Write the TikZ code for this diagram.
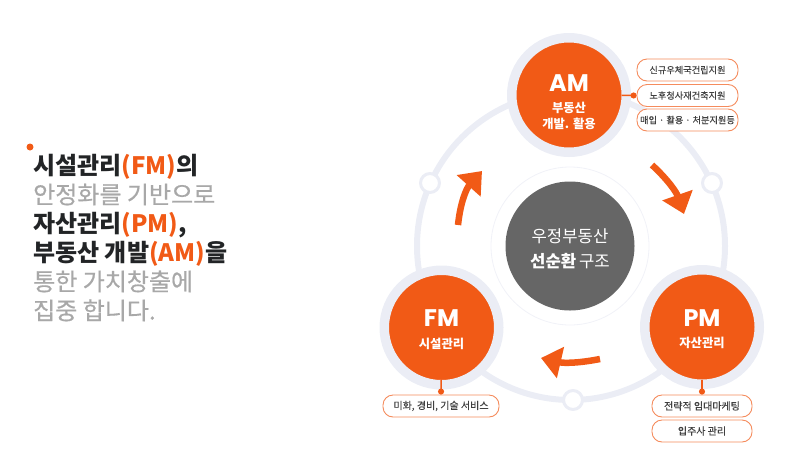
\documentclass[tikz,border=0pt]{standalone}
\usepackage{fontspec}
\setmainfont{Noto Sans CJK KR}
\newfontfamily\latinfont{Poppins}
\newfontfamily\medfont[FakeBold=0.25]{Noto Sans CJK KR}
\newfontfamily\softfont[FakeBold=0.6]{Noto Sans CJK KR}
\usetikzlibrary{arrows.meta}

\definecolor{fire}{HTML}{F15A16}
\definecolor{halo}{HTML}{EBEDF5}
\definecolor{slate}{HTML}{666666}
\definecolor{ash}{HTML}{A8A8A8}
\definecolor{ink}{HTML}{222426}

\tikzset{
	phase/.style={circle, fill=fire, draw=halo, line width=9.5pt, minimum size=114.5pt, inner sep=0pt, outer sep=-4.75pt, text=white, align=center, font=\bfseries\fontsize{12.3}{14.5}\selectfont},
	pill/.style={rounded corners=10pt, draw=fire!70!white, fill=white, line width=.9pt, minimum height=22pt, inner sep=0pt, text=black!75, font=\medfont\fontsize{10}{12}\selectfont},
	smallpill/.style={pill, minimum width=101pt, font=\medfont\fontsize{9.2}{12}\selectfont},
	joint/.style={circle, draw=halo, fill=white, line width=3pt, minimum size=19pt, inner sep=0pt},
	turn/.style={draw=fire, line width=6.5pt, -{Triangle[length=20pt,width=31pt]}},
	lead/.style={draw=fire, line width=1.5pt, -{Circle[length=6pt]}}
}
\newcommand{\acro}[1]{{\latinfont\bfseries\fontsize{24}{26}\selectfont #1}}
\newcommand{\hot}[1]{\textcolor{fire}{\bfseries #1}}

\begin{document}
\begin{tikzpicture}[x=1pt,y=-1pt]
	\useasboundingbox (0,0) rectangle (800,464);

	% left text
	\node[circle, fill=fire, inner sep=0pt, minimum size=7pt] (dot) at (30,147) {};
	\node[anchor=north west, inner sep=0pt, align=left, font=\fontsize{24}{29}\selectfont] (intro) at (33,154) {%
		\textcolor{ink}{\bfseries 시설관리\hot{(FM)}의}\\
		\textcolor{ash}{\softfont 안정화를 기반으로}\\
		\textcolor{ink}{\bfseries 자산관리\hot{(PM)},}\\
		\textcolor{ink}{\bfseries 부동산 개발\hot{(AM)}을}\\
		\textcolor{ash}{\softfont 통한 가치창출에}\\
		\textcolor{ash}{\softfont 집중 합니다.}};

	% ring and hub
	\node[circle, draw=halo, line width=6pt, minimum size=308pt, inner sep=0pt] (ring) at (571,246) {};
	\node[circle, draw=halo!70!white, fill=white, line width=.8pt, minimum size=158pt, inner sep=0pt] (halfhub) at (570,246) {};
	\node[circle, fill=slate, text=white, minimum size=129pt, inner sep=0pt, align=center, font=\fontsize{16.7}{25}\selectfont] (hub) at (570,246) {\rule{0pt}{19pt}우정부동산\\{\bfseries 선순환}\,구조};

	\node[joint] (j1) at (430,183) {};
	\node[joint] (j2) at (712,183) {};
	\node[joint] (j3) at (573,400) {};

	% phases
	\node[phase] (AM) at (569,95) {\rule{0pt}{31pt}\acro{AM}\\[7pt]부동산\\[1.5pt]개발. 활용};
	\node[phase] (FM) at (441.5,327.5) {\rule{0pt}{21pt}\acro{FM}\\[7pt]시설관리};
	\node[phase] (PM) at (702,327) {\rule{0pt}{21pt}\acro{PM}\\[7pt]자산관리};

	% pills
	\node[smallpill] (a1) at (687.5,70) {신규우체국건립지원};
	\node[smallpill] (a2) at (687.5,95.5) {노후청사재건축지원};
	\node[smallpill] (a3) at (687.5,120) {매입 · 활용 · 처분지원등};
	\node[pill, minimum width=116pt] (f1) at (441,406) {미화, 경비, 기술 서비스};
	\node[pill, minimum width=100pt] (p1) at (702,406) {전략적 임대마케팅};
	\node[pill, minimum width=100pt] (p2) at (702,431) {입주사 관리};

	\draw[lead] (AM) -- (a2.west);
	\draw[lead] (FM) -- (f1.north);
	\draw[lead] (PM) -- (p1.north);

	% arrows
	\coordinate (s1) at (652,165);
	\coordinate (e1) at (684,214);
	\coordinate (s2) at (600,359);
	\coordinate (e2) at (541,358);
	\coordinate (s3) at (458,225);
	\coordinate (e3) at (482,171);
	\draw[turn] (s1) to[bend left=14] (e1);
	\draw[turn] (s2) to[bend left=12] (e2);
	\draw[turn] (s3) to[bend left=18] (e3);
\end{tikzpicture}
\end{document}
